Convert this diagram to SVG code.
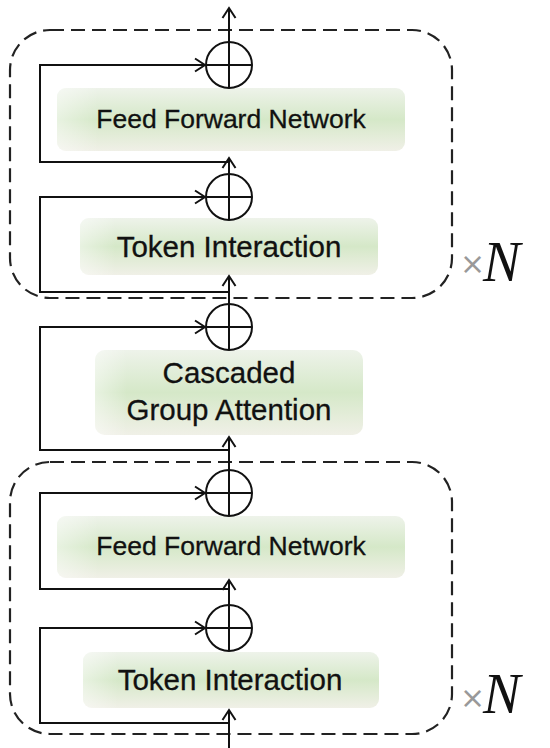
<svg xmlns="http://www.w3.org/2000/svg" width="550" height="748" viewBox="0 0 550 748">
<defs>
<linearGradient id="boxg" x1="0" y1="0" x2="0" y2="1">
<stop offset="0" stop-color="#eef3ea"/>
<stop offset="0.5" stop-color="#d5e8c8"/>
<stop offset="1" stop-color="#f0f0e7"/>
</linearGradient>
<linearGradient id="boxh" x1="0" y1="0" x2="1" y2="0">
<stop offset="0" stop-color="#ffffff" stop-opacity="0.45"/>
<stop offset="0.12" stop-color="#ffffff" stop-opacity="0"/>
<stop offset="1" stop-color="#ffffff" stop-opacity="0"/>
</linearGradient>
<marker id="arr" viewBox="-11 -8 13 16" refX="0" refY="0" markerWidth="13" markerHeight="16" markerUnits="userSpaceOnUse" orient="auto">
<path d="M-10,-6.5 L0,0 L-10,6.5" fill="none" stroke="#111" stroke-width="2"/>
</marker>
</defs>
<style>
.box{fill:url(#boxg);}
.boxh{fill:url(#boxh);}
.lbl{font-family:"Liberation Sans",Arial,sans-serif;fill:#111;stroke:#111;stroke-width:0.3;text-anchor:middle;}
.dash{fill:none;stroke:#222;stroke-width:2.2;stroke-dasharray:14 7;}
.add{fill:#fff;stroke:#111;stroke-width:2;}
.ln{fill:none;stroke:#111;stroke-width:2;}
.x{font-family:"DejaVu Sans",sans-serif;fill:#999;font-size:30px;}
.n{font-family:"Liberation Serif",serif;font-style:italic;fill:#111;font-size:56px;}
</style>
<rect width="550" height="748" fill="#fff"/>

<g id="repeat-top">
<rect class="dash" x="10" y="30" width="442" height="268" rx="40"/>
<text class="x" x="460" y="274">×</text>
<text class="n" x="483" y="281">N</text>
</g>
<g id="repeat-bottom">
<rect class="dash" x="10" y="462" width="442" height="272" rx="40"/>
<text class="x" x="460" y="708">×</text>
<text class="n" x="483" y="713">N</text>
</g>

<g id="ffn1">
<rect class="box" x="57" y="88" width="348" height="63" rx="9"/>
<rect class="boxh" x="57" y="88" width="348" height="63" rx="9"/>
<text class="lbl" x="231" y="128" font-size="26.5">Feed Forward Network</text>
</g>
<g id="token1">
<rect class="box" x="80" y="218" width="298" height="57" rx="9"/>
<rect class="boxh" x="80" y="218" width="298" height="57" rx="9"/>
<text class="lbl" x="229" y="257" font-size="29.5">Token Interaction</text>
</g>
<g id="cga">
<rect class="box" x="95" y="350" width="268" height="85" rx="10"/>
<rect class="boxh" x="95" y="350" width="268" height="85" rx="10"/>
<text class="lbl" x="229" y="383" font-size="29.5">Cascaded</text>
<text class="lbl" x="229" y="420" font-size="29.5">Group Attention</text>
</g>
<g id="ffn2">
<rect class="box" x="57" y="516" width="348" height="62" rx="9"/>
<rect class="boxh" x="57" y="516" width="348" height="62" rx="9"/>
<text class="lbl" x="231" y="555" font-size="26.5">Feed Forward Network</text>
</g>
<g id="token2">
<rect class="box" x="83" y="652" width="296" height="56" rx="9"/>
<rect class="boxh" x="83" y="652" width="296" height="56" rx="9"/>
<text class="lbl" x="230" y="690" font-size="29.5">Token Interaction</text>
</g>

<g id="connectors">
<line class="ln" x1="229" y1="88" x2="229" y2="8" marker-end="url(#arr)"/>
<line class="ln" x1="229" y1="220" x2="229" y2="158" marker-end="url(#arr)"/>
<line class="ln" x1="229" y1="350" x2="229" y2="276" marker-end="url(#arr)"/>
<line class="ln" x1="229" y1="516" x2="229" y2="437" marker-end="url(#arr)"/>
<line class="ln" x1="229" y1="650" x2="229" y2="580" marker-end="url(#arr)"/>
<line class="ln" x1="229" y1="748" x2="229" y2="710" marker-end="url(#arr)"/>
<polyline class="ln" points="229,162 40,162 40,65 205,65" marker-end="url(#arr)"/>
<polyline class="ln" points="229,292 40,292 40,197 205,197" marker-end="url(#arr)"/>
<polyline class="ln" points="229,450 40,450 40,327 205,327" marker-end="url(#arr)"/>
<polyline class="ln" points="229,589 40,589 40,493 205,493" marker-end="url(#arr)"/>
<polyline class="ln" points="229,723 40,723 40,628 205,628" marker-end="url(#arr)"/>
</g>

<g id="add1"><circle class="add" cx="229" cy="65" r="23"/><path class="ln" d="M206,65H252M229,42V88"/></g>
<g id="add2"><circle class="add" cx="229" cy="197" r="23"/><path class="ln" d="M206,197H252M229,174V220"/></g>
<g id="add3"><circle class="add" cx="229" cy="327" r="23"/><path class="ln" d="M206,327H252M229,304V350"/></g>
<g id="add4"><circle class="add" cx="229" cy="493" r="23"/><path class="ln" d="M206,493H252M229,470V516"/></g>
<g id="add5"><circle class="add" cx="229" cy="628" r="23"/><path class="ln" d="M206,628H252M229,605V651"/></g>
</svg>
